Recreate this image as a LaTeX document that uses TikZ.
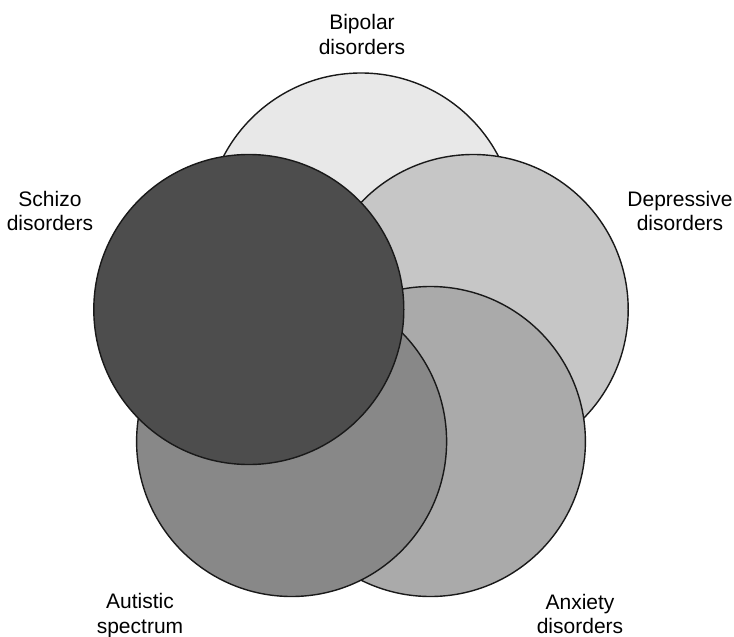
\documentclass[tikz,border=0pt]{standalone}
\usepackage{fontspec}
\setmainfont{Liberation Sans}
\begin{document}
\begin{tikzpicture}[x=1pt,y=-1pt,
  setcircle/.style={circle, draw=black!90, line width=1.4pt, inner sep=0pt, minimum size=310pt},
  setlabel/.style={align=center, inner sep=0pt, font=\fontsize{21}{24.5}\selectfont}]
\useasboundingbox (0,0) rectangle (734,637);
\node[setcircle, fill={rgb,255:red,232;green,232;blue,232}] (bip) at (361,228) {};
\node[setcircle, fill={rgb,255:red,198;green,198;blue,198}] (dep) at (473.2,309.5) {};
\node[setcircle, fill={rgb,255:red,170;green,170;blue,170}] (anx) at (430.4,441.5) {};
\node[setcircle, fill={rgb,255:red,136;green,136;blue,136}] (aut) at (291.6,441.5) {};
\node[setcircle, fill={rgb,255:red,77;green,77;blue,77}] (sch) at (248.8,309.5) {};
\node[setlabel] (lbip) at (362,34.5) {Bipolar\\disorders};
\node[setlabel] (ldep) at (680,211) {Depressive\\disorders};
\node[setlabel] (lsch) at (50,211) {Schizo\\disorders};
\node[setlabel] (laut) at (140,615.5) {Autistic\\spectrum};
\node[setlabel] (lanx) at (580,614) {Anxiety\\disorders};
\end{tikzpicture}
\end{document}
